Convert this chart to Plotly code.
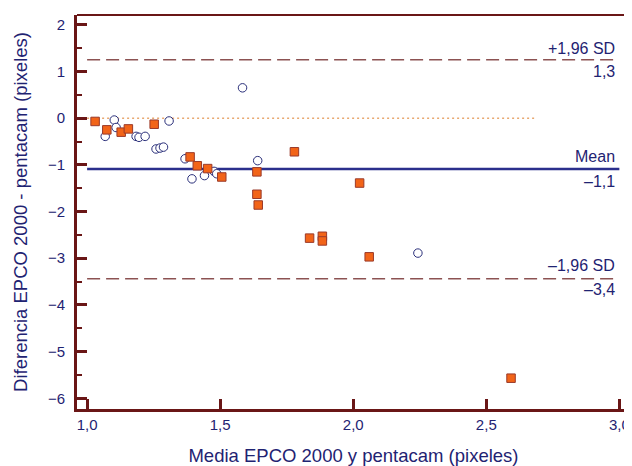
import plotly.graph_objects as go

# Open circles
circ_x = [1.068, 1.102, 1.109, 1.184, 1.195, 1.218, 1.259, 1.274, 1.287, 1.308,
          1.368, 1.394, 1.441, 1.477, 1.487, 1.584, 1.641, 2.243]
circ_y = [-0.39, -0.04, -0.20, -0.39, -0.41, -0.39, -0.66, -0.64, -0.62, -0.06,
          -0.87, -1.30, -1.23, -1.14, -1.19, 0.65, -0.91, -2.89]

# Orange squares
sq_x = [1.030, 1.074, 1.128, 1.155, 1.252, 1.387, 1.414, 1.453, 1.506, 1.638,
        1.638, 1.643, 1.779, 1.836, 1.884, 1.884, 2.024, 2.060, 2.593]
sq_y = [-0.07, -0.25, -0.30, -0.23, -0.13, -0.83, -1.02, -1.08, -1.26, -1.15,
        -1.63, -1.86, -0.72, -2.57, -2.53, -2.63, -1.39, -2.97, -5.57]

mean_diff = -1.09
upper_loa = 1.25
lower_loa = -3.44

mean_x = [1.0, 3.0]
loa_x = [1.0, 2.99]
zero_x = [1.0, 2.69]

x_ticks = [1.0, 1.5, 2.0, 2.5, 3.0]
y_ticks = [2, 1, 0, -1, -2, -3, -4, -5, -6]

NAVY = "#1f2372"
MAROON = "#6a1616"
FONT = "Liberation Sans, Arial, sans-serif"

fig = go.Figure()

fig.add_trace(go.Scatter(x=zero_x, y=[0, 0], mode="lines",
                         line=dict(color="#e8a870", width=1.5, dash="2px,3px"),
                         hoverinfo="skip"))
fig.add_trace(go.Scatter(x=loa_x, y=[upper_loa, upper_loa], mode="lines",
                         line=dict(color="#8c5252", width=1.5, dash="13px,6px"),
                         hoverinfo="skip"))
fig.add_trace(go.Scatter(x=loa_x, y=[lower_loa, lower_loa], mode="lines",
                         line=dict(color="#8c5252", width=1.5, dash="13px,6px"),
                         hoverinfo="skip"))
fig.add_trace(go.Scatter(x=mean_x, y=[mean_diff, mean_diff], mode="lines",
                         line=dict(color="#2b2f8c", width=2.5),
                         hoverinfo="skip"))

fig.add_trace(go.Scatter(x=circ_x, y=circ_y, mode="markers",
                         marker=dict(symbol="circle", size=8.5, color="white",
                                     line=dict(color="#2a2f7a", width=1))))
fig.add_trace(go.Scatter(x=sq_x, y=sq_y, mode="markers",
                         marker=dict(symbol="square", size=8.5, color="#f26418",
                                     line=dict(color="#9a3a2a", width=1))))

ann_x = 2.992
def lab(text, y, shift):
    fig.add_annotation(x=ann_x, y=y, text=text, showarrow=False, xanchor="right",
                       yanchor="middle", yshift=shift,
                       font=dict(family=FONT, size=16, color=NAVY))

lab("+1,96 SD", upper_loa, 11)
lab("1,3", upper_loa, -12)
lab("Mean", mean_diff, 13)
lab("–1,1", mean_diff, -12)
lab("–1,96 SD", lower_loa, 13)
lab("–3,4", lower_loa, -11)

# top and right frame lines
fig.add_shape(type="line", xref="paper", yref="paper", x0=0, x1=1, y0=1, y1=1,
              line=dict(color=MAROON, width=2))
fig.add_shape(type="line", xref="paper", yref="paper", x0=1, x1=1, y0=0, y1=1,
              line=dict(color=MAROON, width=2))

fig.update_layout(
    width=624, height=458,
    margin=dict(l=69, r=2, t=7, b=54),
    paper_bgcolor="white", plot_bgcolor="white",
    showlegend=False,
    separators=",.",
    font=dict(family=FONT, color=NAVY),
    xaxis=dict(range=[0.962, 3.04], tickvals=x_ticks, tickformat=".1f",
               ticks="inside", ticklen=10, tickwidth=2.5, tickcolor=MAROON,
               showline=True, linecolor=MAROON, linewidth=3,
               showgrid=False, zeroline=False, ticklabelstandoff=0,
               tickfont=dict(family=FONT, size=15, color=NAVY),
               title=dict(text="Media EPCO 2000 y pentacam (pixeles)",
                          font=dict(family=FONT, size=18.5, color=NAVY), standoff=18)),
    yaxis=dict(range=[-6.23, 2.21], tickvals=y_ticks,
               ticks="inside", ticklen=10, tickwidth=2.5, tickcolor=MAROON,
               minor=dict(ticks="inside", ticklen=5, tickwidth=2, tickcolor=MAROON, dtick=0.5, showgrid=False),
               showline=True, linecolor=MAROON, linewidth=3,
               showgrid=False, zeroline=False, ticklabelstandoff=6,
               tickfont=dict(family=FONT, size=15, color=NAVY),
               title=dict(text="Diferencia EPCO 2000 - pentacam (pixeles)",
                          font=dict(family=FONT, size=18.5, color=NAVY), standoff=16)),
)

fig.write_html("out.html")
